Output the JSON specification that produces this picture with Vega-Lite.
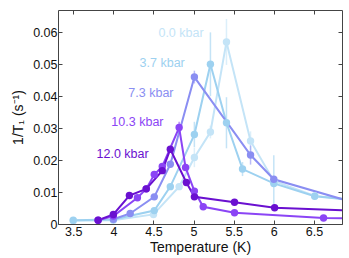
{
  "$schema": "https://vega.github.io/schema/vega-lite/v6.json",
  "width": 284,
  "height": 214,
  "autosize": {"type": "none"},
  "padding": {"left": 58, "top": 10, "right": 7, "bottom": 34},
  "config": {
    "font": "Liberation Sans",
    "view": {"stroke": "#444", "strokeWidth": 1},
    "axis": {"domain": false, "grid": false, "tickColor": "#444", "tickSize": -4, "labelFontSize": 12.5, "labelColor": "#111", "titleFontSize": 14, "titleFontWeight": "normal", "titleColor": "#111", "labelOverlap": false, "labelFlush": false}
  },
  "datasets": {
    "pts": [
      {"p": "0.0 kbar", "T": 3.5, "y": 0.001},
      {"p": "0.0 kbar", "T": 4.0, "y": 0.0012},
      {"p": "0.0 kbar", "T": 4.5, "y": 0.003},
      {"p": "0.0 kbar", "T": 4.82, "y": 0.0117},
      {"p": "0.0 kbar", "T": 5.01, "y": 0.0208, "lo": 0.0178, "hi": 0.0238},
      {"p": "0.0 kbar", "T": 5.21, "y": 0.0288, "lo": 0.0268, "hi": 0.0308},
      {"p": "0.0 kbar", "T": 5.41, "y": 0.057, "lo": 0.0498, "hi": 0.0642},
      {"p": "0.0 kbar", "T": 5.71, "y": 0.026, "lo": 0.023, "hi": 0.029},
      {"p": "0.0 kbar", "T": 6.0, "y": 0.0135},
      {"p": "0.0 kbar", "T": 6.51, "y": 0.0088},
      {"p": "0.0 kbar", "T": 7.0, "y": 0.0075},
      {"p": "3.7 kbar", "T": 3.5, "y": 0.0012},
      {"p": "3.7 kbar", "T": 4.0, "y": 0.0014},
      {"p": "3.7 kbar", "T": 4.51, "y": 0.0042},
      {"p": "3.7 kbar", "T": 4.71, "y": 0.0117},
      {"p": "3.7 kbar", "T": 5.01, "y": 0.028, "lo": 0.024, "hi": 0.032},
      {"p": "3.7 kbar", "T": 5.21, "y": 0.05, "lo": 0.04, "hi": 0.06},
      {"p": "3.7 kbar", "T": 5.41, "y": 0.0317, "lo": 0.0237, "hi": 0.0397},
      {"p": "3.7 kbar", "T": 5.61, "y": 0.0172, "lo": 0.015, "hi": 0.0194},
      {"p": "3.7 kbar", "T": 6.0, "y": 0.0127, "lo": 0.0045, "hi": 0.0215},
      {"p": "3.7 kbar", "T": 6.51, "y": 0.0087},
      {"p": "3.7 kbar", "T": 7.0, "y": 0.0075},
      {"p": "7.3 kbar", "T": 4.0, "y": 0.0015},
      {"p": "7.3 kbar", "T": 4.21, "y": 0.0033},
      {"p": "7.3 kbar", "T": 4.51, "y": 0.0085},
      {"p": "7.3 kbar", "T": 4.71, "y": 0.0187},
      {"p": "7.3 kbar", "T": 5.01, "y": 0.046, "lo": 0.044, "hi": 0.048},
      {"p": "7.3 kbar", "T": 5.71, "y": 0.0216, "lo": 0.0186, "hi": 0.0246},
      {"p": "7.3 kbar", "T": 6.0, "y": 0.014},
      {"p": "7.3 kbar", "T": 7.0, "y": 0.0067},
      {"p": "10.3 kbar", "T": 3.81, "y": 0.0012},
      {"p": "10.3 kbar", "T": 4.0, "y": 0.0025},
      {"p": "10.3 kbar", "T": 4.3, "y": 0.0082},
      {"p": "10.3 kbar", "T": 4.41, "y": 0.011},
      {"p": "10.3 kbar", "T": 4.51, "y": 0.0155},
      {"p": "10.3 kbar", "T": 4.61, "y": 0.018},
      {"p": "10.3 kbar", "T": 4.82, "y": 0.0302, "lo": 0.0285, "hi": 0.032},
      {"p": "10.3 kbar", "T": 4.9, "y": 0.0177},
      {"p": "10.3 kbar", "T": 5.01, "y": 0.0103},
      {"p": "10.3 kbar", "T": 5.12, "y": 0.0054},
      {"p": "10.3 kbar", "T": 5.51, "y": 0.0035},
      {"p": "10.3 kbar", "T": 6.62, "y": 0.0019},
      {"p": "10.3 kbar", "T": 7.0, "y": 0.0017},
      {"p": "12.0 kbar", "T": 3.81, "y": 0.0012},
      {"p": "12.0 kbar", "T": 4.0, "y": 0.003},
      {"p": "12.0 kbar", "T": 4.2, "y": 0.0089, "lo": 0.0078, "hi": 0.01},
      {"p": "12.0 kbar", "T": 4.41, "y": 0.011},
      {"p": "12.0 kbar", "T": 4.61, "y": 0.0167},
      {"p": "12.0 kbar", "T": 4.71, "y": 0.0234},
      {"p": "12.0 kbar", "T": 4.91, "y": 0.013},
      {"p": "12.0 kbar", "T": 5.01, "y": 0.0085},
      {"p": "12.0 kbar", "T": 5.51, "y": 0.0068},
      {"p": "12.0 kbar", "T": 6.01, "y": 0.0051},
      {"p": "12.0 kbar", "T": 7.0, "y": 0.0042}
    ],
    "labels": [
      {"p": "0.0 kbar", "T": 5.125, "y": 0.0597},
      {"p": "3.7 kbar", "T": 4.89, "y": 0.0503},
      {"p": "7.3 kbar", "T": 4.75, "y": 0.041},
      {"p": "10.3 kbar", "T": 4.625, "y": 0.0319},
      {"p": "12.0 kbar", "T": 4.44, "y": 0.0219}
    ]
  },
  "resolve": {"axis": {"x": "independent", "y": "independent"}},
  "layer": [
    {
      "data": {"name": "pts"},
      "transform": [{"filter": "isValid(datum.lo)"}],
      "mark": {"type": "rule", "strokeWidth": 1.5, "opacity": 0.6, "clip": true},
      "encoding": {
        "x": {"field": "T", "type": "quantitative", "scale": {"domain": [3.31, 6.85], "nice": false, "zero": false}, "axis": {"values": [3.5, 4, 4.5, 5, 5.5, 6, 6.5], "format": "~g", "title": "Temperature (K)", "labelPadding": 5, "titlePadding": 3}},
        "y": {"field": "lo", "type": "quantitative", "scale": {"domain": [0, 0.067], "nice": false}, "axis": {"values": [0, 0.01, 0.02, 0.03, 0.04, 0.05, 0.06], "format": "~g", "title": "1/T₁ (s⁻¹)", "labelPadding": 5, "titlePadding": 7}},
        "y2": {"field": "hi"},
        "color": {"field": "p", "type": "nominal", "legend": null, "scale": {"domain": ["0.0 kbar", "3.7 kbar", "7.3 kbar", "10.3 kbar", "12.0 kbar"], "range": ["#c4e4f7", "#9dd1f0", "#8a8ef2", "#8b45f5", "#6a10d0"]}}
      }
    },
    {
      "data": {"name": "pts"},
      "mark": {"type": "line", "strokeWidth": 2, "clip": true},
      "encoding": {
        "x": {"field": "T", "type": "quantitative", "axis": null},
        "y": {"field": "y", "type": "quantitative", "axis": null},
        "color": {"field": "p", "type": "nominal", "legend": null},
        "order": {"field": "T"}
      }
    },
    {
      "data": {"name": "pts"},
      "mark": {"type": "point", "filled": true, "size": 55, "opacity": 1, "clip": true},
      "encoding": {
        "x": {"field": "T", "type": "quantitative", "axis": {"orient": "top", "values": [3.5, 4, 4.5, 5, 5.5, 6, 6.5], "labels": false, "title": null}},
        "y": {"field": "y", "type": "quantitative", "axis": {"orient": "right", "values": [0, 0.01, 0.02, 0.03, 0.04, 0.05, 0.06], "labels": false, "title": null}},
        "color": {"field": "p", "type": "nominal", "legend": null}
      }
    },
    {
      "data": {"name": "labels"},
      "mark": {"type": "text", "align": "right", "baseline": "middle", "fontSize": 12.5},
      "encoding": {
        "x": {"field": "T", "type": "quantitative", "axis": null},
        "y": {"field": "y", "type": "quantitative", "axis": null},
        "text": {"field": "p"},
        "color": {"field": "p", "type": "nominal", "legend": null}
      }
    }
  ]
}
